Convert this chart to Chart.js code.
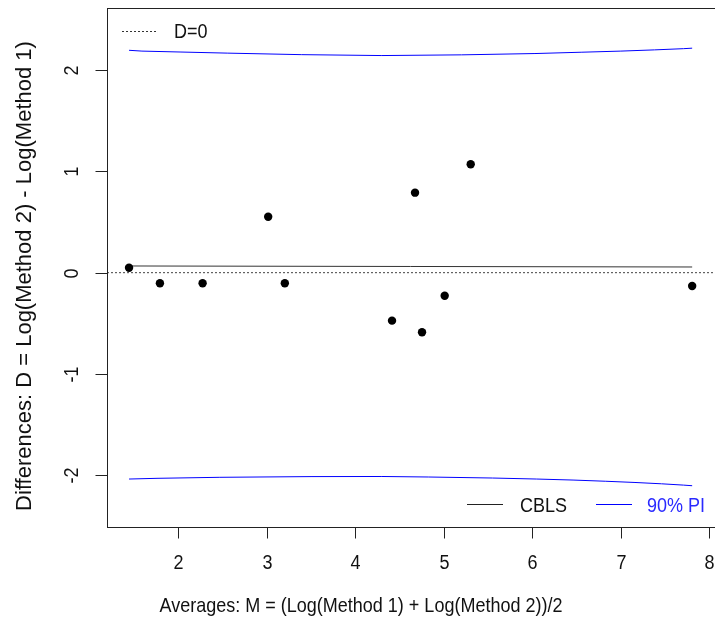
<!DOCTYPE html>
<html>
<head>
<meta charset="utf-8">
<script src="https://cdn.jsdelivr.net/npm/chart.js@4/dist/chart.umd.min.js"></script>
<style>
  html, body { margin: 0; padding: 0; background: #fff; overflow: hidden; }
  #wrap { width: 720px; height: 617px; }
</style>
</head>
<body>
<div id="wrap"><canvas id="ba" width="720" height="617"></canvas></div>
<script>
// Bland-Altman style plot on the log scale
const avgM  = [1.444, 1.793, 2.275, 3.016, 3.204, 4.415, 4.675, 4.754, 5.010, 5.304, 7.806];
const diffD = [0.049, -0.105, -0.105, 0.552, -0.105, -0.473, 0.789, -0.588, -0.227, 1.069, -0.131];

// constant-bias least squares fit
const cblsX = [1.444, 7.806];
const cblsY = [0.066, 0.056];

// 90% prediction interval bounds
const piUpX = [1.444, 1.59, 2.02, 2.56, 3.39, 4.3, 5.2, 6.03, 6.56, 7.0, 7.38, 7.71, 7.806];
const piUpY = [2.193, 2.185, 2.176, 2.165, 2.150, 2.141, 2.148, 2.161, 2.174, 2.185, 2.197, 2.209, 2.214];
const piLoX = [1.444, 1.76, 2.47, 3.5, 4.3, 4.83, 5.55, 6.05, 6.46, 6.83, 7.16, 7.46, 7.71, 7.806];
const piLoY = [-2.035, -2.028, -2.018, -2.011, -2.010, -2.015, -2.025, -2.035, -2.045, -2.057, -2.069, -2.082, -2.095, -2.101];

const xTicks = [2, 3, 4, 5, 6, 7, 8];
const yTicks = [-2, -1, 0, 1, 2];
const xRange = [1.195, 8.073];
const yRange = [-2.508, 2.61];

const xTitle = 'Averages: M = (Log(Method 1) + Log(Method 2))/2';
const yTitle = 'Differences: D = Log(Method 2) - Log(Method 1)';

const FONT = '"Liberation Sans", Arial, sans-serif';
const INK = '#111';
const TALL = 1.12; // glyphs are drawn slightly taller than wide

const pts = (xs, ys) => xs.map((v, i) => ({ x: v, y: ys[i] }));

// horizontal text, stretched a little vertically around its centre
function hText(ctx, s, x, y) {
  ctx.save();
  ctx.translate(x, y);
  ctx.scale(1, TALL);
  ctx.fillText(s, 0, 0);
  ctx.restore();
}

const axesAndLegend = {
  id: 'axesAndLegend',
  afterDraw(chart) {
    const { ctx, chartArea: a, scales: { x, y } } = chart;
    ctx.save();
    ctx.strokeStyle = '#222';
    ctx.lineWidth = 1;
    const L = Math.round(a.left) + 0.5, T = Math.round(a.top) + 0.5;
    const R = Math.round(a.right) + 0.5, B = Math.round(a.bottom) + 0.5;
    ctx.strokeRect(L, T, R - L, B - T);

    ctx.fillStyle = INK;
    ctx.font = '18px ' + FONT;
    ctx.textAlign = 'center';
    ctx.textBaseline = 'middle';
    xTicks.forEach(v => {
      const px = Math.round(x.getPixelForValue(v)) + 0.5;
      ctx.beginPath(); ctx.moveTo(px, B); ctx.lineTo(px, B + 11); ctx.stroke();
      hText(ctx, String(v), px, 563);
    });
    yTicks.forEach(v => {
      const py = Math.round(y.getPixelForValue(v)) + 0.5;
      ctx.beginPath(); ctx.moveTo(L - 12, py); ctx.lineTo(L, py); ctx.stroke();
      ctx.save();
      ctx.translate(72, py);
      ctx.rotate(-Math.PI / 2);
      ctx.scale(1, TALL);
      ctx.fillText(String(v), 0, 0);
      ctx.restore();
    });

    // axis titles
    hText(ctx, xTitle, 361, 606);
    ctx.save();
    ctx.font = '22px ' + FONT;
    ctx.translate(25, 276);
    ctx.rotate(-Math.PI / 2);
    ctx.fillText(yTitle, 0, 0);
    ctx.restore();

    // legends
    ctx.textAlign = 'left';
    ctx.strokeStyle = '#333';
    ctx.setLineDash([2, 2]);
    ctx.beginPath(); ctx.moveTo(122, 31.5); ctx.lineTo(158, 31.5); ctx.stroke();
    ctx.setLineDash([]);
    hText(ctx, 'D=0', 174, 32);

    ctx.strokeStyle = '#222';
    ctx.beginPath(); ctx.moveTo(467, 504.5); ctx.lineTo(503, 504.5); ctx.stroke();
    hText(ctx, 'CBLS', 520, 506);
    ctx.strokeStyle = '#0000ff';
    ctx.beginPath(); ctx.moveTo(596, 504.5); ctx.lineTo(632, 504.5); ctx.stroke();
    ctx.fillStyle = '#2a2aff';
    hText(ctx, '90% PI', 647, 506);
    ctx.restore();
  }
};

const lineDs = (data, color, extra) => Object.assign({
  data, showLine: true, borderColor: color, borderWidth: 1,
  pointRadius: 0, pointHoverRadius: 0, fill: false, tension: 0
}, extra || {});

new Chart(document.getElementById('ba'), {
  type: 'scatter',
  data: {
    datasets: [
      { data: pts(avgM, diffD), backgroundColor: '#000', borderColor: '#000',
        borderWidth: 0, pointRadius: 4.2, order: 0 },
      lineDs(pts(cblsX, cblsY), '#333', { order: 1 }),
      lineDs(pts(piUpX, piUpY), '#0000ff', { order: 2 }),
      lineDs(pts(piLoX, piLoY), '#0000ff', { order: 3 }),
      lineDs(pts(xRange, [0, 0]), '#444', { borderDash: [2, 2], order: 4 })
    ]
  },
  options: {
    responsive: false,
    animation: false,
    devicePixelRatio: 1,
    layout: { padding: { left: 107, top: 8, right: 3.5, bottom: 90 } },
    plugins: { legend: { display: false }, tooltip: { enabled: false } },
    scales: {
      x: { type: 'linear', display: false, min: xRange[0], max: xRange[1] },
      y: { type: 'linear', display: false, min: yRange[0], max: yRange[1] }
    }
  },
  plugins: [axesAndLegend]
});
</script>
</body>
</html>
